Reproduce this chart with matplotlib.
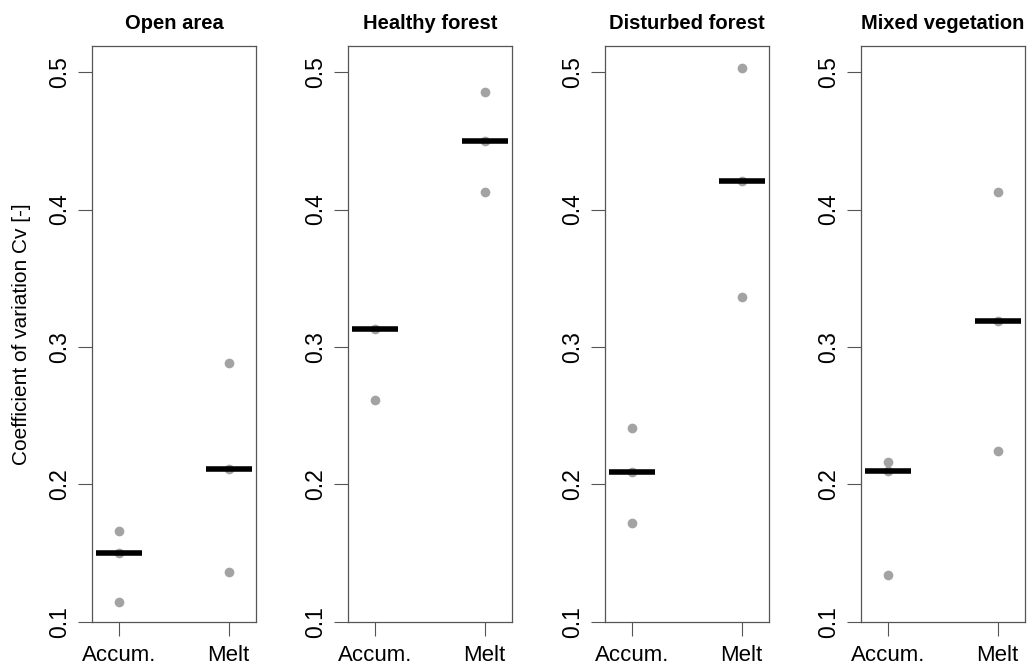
import matplotlib.pyplot as plt
import numpy as np

plt.rcParams["font.family"] = ["Liberation Sans", "DejaVu Sans"]

groups = ["Open area", "Healthy forest", "Disturbed forest", "Mixed vegetation"]
phases = ["Accum.", "Melt"]

# Cv of the single sites, per land cover and season phase
accum_cv = [
    [0.1145, 0.150, 0.166],
    [0.2615, 0.313],
    [0.172, 0.2093, 0.241],
    [0.134, 0.210, 0.2164],
]
melt_cv = [
    [0.136, 0.2114, 0.288],
    [0.4128, 0.4495, 0.4855],
    [0.336, 0.4205, 0.503],
    [0.224, 0.3186, 0.413],
]
accum_median = [0.150, 0.313, 0.2093, 0.210]
melt_median = [0.2114, 0.4495, 0.4205, 0.3186]

W, H = 1032, 668
fig = plt.figure(figsize=(W / 100, H / 100), dpi=100)

box_w = 164
box_bottom = 668 - 621.7
box_h = 621.7 - 46
lefts = [92, 348, 605, 861]

axes_col = "#555555"

for i, grp in enumerate(groups):
    ax = fig.add_axes([lefts[i] / W, box_bottom / H, box_w / W, box_h / H])
    for xpos, pts, med in [(1, accum_cv[i], accum_median[i]), (2, melt_cv[i], melt_median[i])]:
        ax.plot([xpos] * len(pts), pts, "o", ms=7, color="#a3a3a3", mec="none", zorder=2)
        ax.hlines(med, xpos - 0.21, xpos + 0.21, color="black", lw=4, capstyle="butt", zorder=3)

    ax.set_xlim(0.75, 2.25)
    ax.set_ylim(0.1, 0.519)
    ax.set_xticks([1, 2])
    ax.set_xticklabels(phases, fontsize=16)
    ax.set_yticks([0.1, 0.2, 0.3, 0.4, 0.5])
    ax.set_yticklabels(["0.1", "0.2", "0.3", "0.4", "0.5"], rotation=90, va="center", fontsize=16.5)
    ax.tick_params(axis="both", length=10, width=0.8, color=axes_col)
    ax.tick_params(axis="y", pad=5)
    ax.tick_params(axis="x", pad=7)
    for sp in ax.spines.values():
        sp.set_color(axes_col)
        sp.set_linewidth(0.9)
    ax.set_title(grp, fontsize=14.5, fontweight="bold", pad=12)

fig.text(22 / W, 1 - 334 / H, "Coefficient of variation Cv [-]", rotation=90,
         ha="center", va="center", fontsize=15)

fig.savefig("out.png", dpi=100)
